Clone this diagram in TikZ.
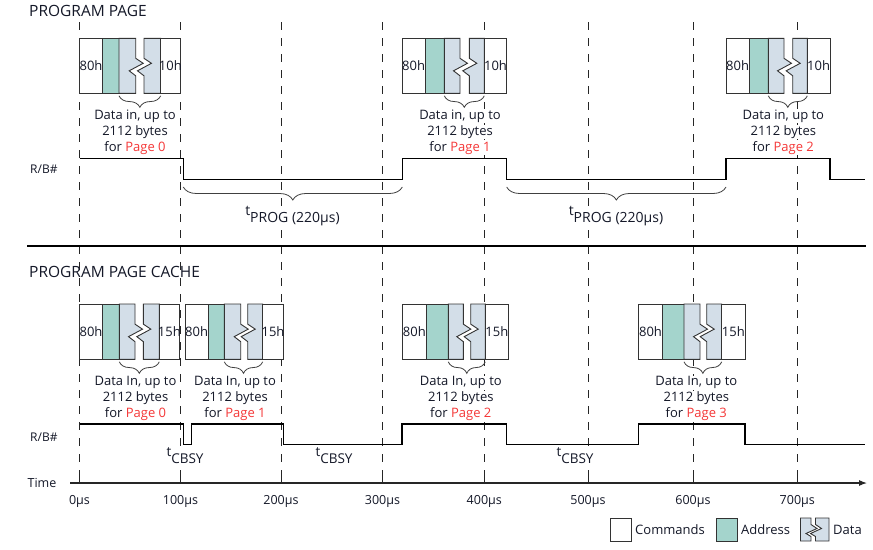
\documentclass[tikz,border=0pt]{standalone}
\usepackage{fontspec}
\setmainfont{Open Sans}
\usetikzlibrary{decorations.pathreplacing,arrows.meta}
\definecolor{addrcol}{RGB}{164,212,204}
\definecolor{datacol}{RGB}{211,222,232}
\definecolor{pagered}{RGB}{245,55,55}
\definecolor{txtcol}{RGB}{20,24,40}
\tikzset{
  boxline/.style={draw=black!80, line width=0.9pt, line join=miter},
  cmdcell/.style={boxline, fill=white},
  addrcell/.style={boxline, fill=addrcol},
  datacell/.style={boxline, fill=datacol},
  txt/.style={font=\fontsize{13}{16}\selectfont, text=txtcol, inner sep=0.6pt, fill=white},
  cell/.style={font=\fontsize{13}{16}\selectfont, text=txtcol, inner sep=0pt},
  titletxt/.style={font=\fontsize{15.5}{18}\selectfont, text=txtcol, inner sep=0pt, anchor=base west},
  sigtxt/.style={font=\fontsize{12}{14}\selectfont, text=txtcol, inner sep=0pt, anchor=base west},
  axtxt/.style={font=\fontsize{12.5}{14}\selectfont, text=txtcol, inner sep=0.5pt, anchor=base},
  timetxt/.style={font=\fontsize{14}{16}\selectfont, text=txtcol, inner sep=0.6pt, fill=white, anchor=base},
  signal/.style={draw=black, line width=1.1pt, line join=miter},
  guide/.style={draw=black!85, line width=0.9pt, dash pattern=on 8pt off 8pt},
  databrace/.style={draw=black!75, line width=0.8pt, decorate, decoration={brace, mirror, amplitude=11.5pt}},
  progbrace/.style={draw=black!75, line width=0.8pt, decorate, decoration={brace, mirror, amplitude=13pt}},
  legtxt/.style={font=\fontsize{13}{16}\selectfont, text=txtcol, inner sep=0pt, anchor=base west},
}
% #1 name, #2..#8 x positions, #9 end command label
\newcommand\pgroup[9]{%
  \pgfmathsetmacro\ym{(\yt+\yb)/2}%
  \draw[cmdcell] (#2,\yt) rectangle (#3,\yb);
  \draw[addrcell] (#3,\yt) rectangle (#4,\yb);
  \draw[datacell] (#4,\yt) -- (#5,\yt) -- (#5,{\ym-7.5}) -- ({#5+7.5},{\ym-2.5})
     -- ({#5-6.5},{\ym+5}) -- (#5,{\ym+10}) -- (#5,\yb) -- (#4,\yb) -- cycle;
  \draw[datacell] (#6,\yt) -- (#7,\yt) -- (#7,\yb) -- (#6,\yb) -- (#6,{\ym+10})
     -- ({#6-6.5},{\ym+5}) -- ({#6+7.5},{\ym-2.5}) -- (#6,{\ym-7.5}) -- cycle;
  \draw[cmdcell] (#7,\yt) rectangle (#8,\yb);
  \node[cell] (#1-cmd) at ({(#2+#3)/2},\ym) {80h};
  \node[cell] (#1-end) at ({(#7+#8)/2},\ym) {#9};
  \draw[databrace] (#4,{\yb+2.5}) -- (#7,{\yb+2.5});
}
% #1 name, #2 x, #3 first baseline, #4 In/in, #5 page number
\newcommand\pdtext[5]{%
  \node[txt, anchor=base] (#1-a) at (#2,#3) {Data #4, up to};
  \node[txt, anchor=base] (#1-b) at (#2,{#3+16}) {2112 bytes};
  \node[txt, anchor=base] (#1-c) at (#2,{#3+31.5}) {for \textcolor{pagered}{Page #5}};
}
\begin{document}
\begin{tikzpicture}[x=1pt,y=-1pt]
\useasboundingbox[fill=white] (0,0) rectangle (873,549);

% guide lines
\foreach \gx in {79.5,180.5,281,382.5,484.3,588,693,797.3}{
  \draw[guide] (\gx,22) -- (\gx,476);
  \draw[line width=0.9pt, black!85] (\gx,476) -- (\gx,483);
}

% ---------- PROGRAM PAGE ----------
\node[titletxt] (title1) at (29,16.7) {PROGRAM PAGE};
\def\yt{38.3}\def\yb{93.3}
\pgroup{a1}{79.3}{102.7}{119}{135.7}{144}{160.7}{180}{10h}
\pgroup{a2}{402.3}{425}{444.3}{460}{469.3}{484.3}{506.7}{10h}
\pgroup{a3}{726}{749.3}{768.3}{784}{792.7}{807.3}{830}{10h}
\pdtext{ta1}{135}{119.5}{in}{0}
\pdtext{ta2}{460}{119.5}{in}{1}
\pdtext{ta3}{783.3}{119.5}{in}{2}

\node[sigtxt] (rb1) at (30,173.3) {R/B\#};
\draw[signal] (79.5,158.3) -- (183.3,158.3) -- (183.3,179.2) -- (402.3,179.2)
  -- (402.3,158.3) -- (506.7,158.3) -- (506.7,179.2) -- (726,179.2)
  -- (726,158.3) -- (830,158.3) -- (830,179.2) -- (865,179.2);
\draw[progbrace] (183.3,187) -- (402.3,187);
\draw[progbrace] (506.7,187) -- (726,187);
\node[timetxt] (tprog1) at (292.5,222) {\raisebox{6.5pt}{t}PROG (220µs)};
\node[timetxt] (tprog2) at (616,222) {\raisebox{6.5pt}{t}PROG (220µs)};

% separator
\draw[line width=2pt, black] (27,246) -- (866,246);

% ---------- PROGRAM PAGE CACHE ----------
\node[titletxt] (title2) at (29,277.5) {PROGRAM PAGE CACHE};
\def\yt{304}\def\yb{359.3}
\pgroup{b1}{79.3}{102.7}{119.3}{135}{143.3}{159.3}{179.3}{15h}
\pgroup{b2}{185}{208.3}{224.3}{240.7}{247.7}{262.7}{283.3}{15h}
\pgroup{b3}{402}{426.7}{448.3}{463.3}{470.7}{485.3}{508.3}{15h}
\pgroup{b4}{638.3}{662.7}{684}{700}{706.7}{721.7}{745}{15h}
\pdtext{tb1}{135.5}{385.5}{In}{0}
\pdtext{tb2}{235}{385.5}{In}{1}
\pdtext{tb3}{460.8}{385.5}{In}{2}
\pdtext{tb4}{696.3}{385.5}{In}{3}

\node[sigtxt] (rb2) at (30,441.5) {R/B\#};
\draw[signal] (79.5,424) -- (183.3,424) -- (183.3,444.5) -- (191.7,444.5) -- (191.7,424)
  -- (283.3,424) -- (283.3,444.5) -- (402,444.5) -- (402,424) -- (506.7,424)
  -- (506.7,444.5) -- (638.3,444.5) -- (638.3,424) -- (745,424) -- (745,444.5) -- (865,444.5);
\node[timetxt, font=\fontsize{13.5}{16}\selectfont] (tc1) at (185,463) {\raisebox{6.5pt}{t}CBSY};
\node[timetxt, font=\fontsize{13.5}{16}\selectfont] (tc2) at (334,463) {\raisebox{6.5pt}{t}CBSY};
\node[timetxt, font=\fontsize{13.5}{16}\selectfont] (tc3) at (575,463) {\raisebox{6.5pt}{t}CBSY};

% ---------- time axis ----------
\node[axtxt] (timelbl) at (42,487) {Time};
\coordinate (axs) at (70,483);
\coordinate (axe) at (867,483);
\draw[line width=1.1pt, black!85, -{Latex[length=8pt,width=6pt]}] (axs) -- (axe);
\node[axtxt] (u0) at (79.5,504) {0µs};
\node[axtxt] (u1) at (180.5,504) {100µs};
\node[axtxt] (u2) at (281,504) {200µs};
\node[axtxt] (u3) at (382.5,504) {300µs};
\node[axtxt] (u4) at (484.3,504) {400µs};
\node[axtxt] (u5) at (588,504) {500µs};
\node[axtxt] (u6) at (693,504) {600µs};
\node[axtxt] (u7) at (797.3,504) {700µs};

% ---------- legend ----------
\draw[cmdcell] (610.5,518) rectangle (631.5,541);
\node[legtxt] (lcmd) at (635,534.5) {Commands};
\draw[addrcell] (716,518) rectangle (737,541);
\node[legtxt] (laddr) at (741,534.5) {Address};
\draw[datacell] (800.5,518) -- (811,518) -- (811,524.5) -- (817,528.5) -- (806,533.5) -- (811,536.5) -- (811,541) -- (800.5,541) -- cycle;
\draw[datacell] (815.5,518) -- (829,518) -- (829,541) -- (815.5,541) -- (815.5,536.5) -- (810.5,533.5) -- (821.5,528.5) -- (815.5,524.5) -- cycle;
\node[legtxt] (ldata) at (833,534.5) {Data};
\end{tikzpicture}
\end{document}
